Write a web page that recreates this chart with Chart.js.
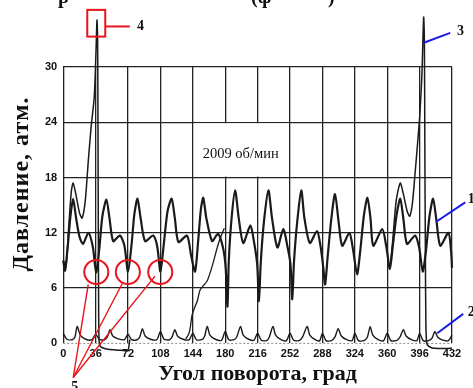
<!DOCTYPE html>
<html><head><meta charset="utf-8">
<script src="https://cdn.jsdelivr.net/npm/chart.js@4.4.1/dist/chart.umd.min.js"></script>
<style>html,body{margin:0;padding:0;background:#fff;}#wrap{width:473px;height:388px;}</style>
</head><body><div id="wrap"><canvas id="c" width="473" height="388"></canvas></div>
<script>
// Main pressure trace (curve 1)
const aAngles = [0,2,5,8,11,14,18,22,28,33,36.5,
 40,43.5,48,51.5,55.5,63,68,72,
 76,79,82.5,86,91,100,104.5,108,
 112,116,120.5,124,128,137.5,142,146.5,
 150,153,155.6,159,165.5,172,177.5,180.5,182.5,184,187,191,
 195,200,208,212,215.5,217.5,219.5,223,228,
 232,238,244.5,249,252.5,254.5,256.5,260,264.5,
 268,274,282,286,289,291,294,298,302,
 306,310,318,322,326.5,330,334,338,
 341.5,344.5,354.5,359,363,366.5,370.5,374.5,
 378,382,391,395.5,399.5,403,407,411,
 414.5,419,428,431,432];
const aPressure = [9.0,7.9,10.5,13.8,15.7,13.8,11.6,10.8,12.0,10.4,7.7,
 10.2,13.8,15.6,13.5,11.1,11.7,10.6,7.8,
 10.8,14.0,15.7,13.6,11.1,11.7,10.5,7.8,
 11.0,14.4,15.7,13.6,11.0,11.7,9.6,7.8,
 11.2,14.6,15.8,13.6,11.1,11.9,10.4,8.2,4.0,9.0,13.5,16.6,
 13.6,10.9,12.8,11.0,8.6,4.6,8.8,13.2,16.6,
 13.6,10.4,12.4,10.6,8.6,4.8,9.0,13.2,16.6,
 13.6,10.9,12.2,10.5,8.2,6.4,9.6,13.6,16.2,
 13.2,10.6,12.0,10.2,7.5,10.0,13.8,15.8,
 13.5,10.6,12.4,10.5,8.1,10.8,14.0,15.7,
 13.5,10.8,11.7,10.4,7.8,10.0,13.8,15.7,
 13.5,10.6,12.0,10.0,8.2];
// Combustion cycle with peak 4
const bAngles = [0,3,6,9,11,14,18,21,24.5,28,31,34.5,36.5,37.5,38.2,38.6,39,39.4,40,42,48,56,64,70,72,74];
const bPressure = [9.0,8.3,12.5,16.5,17.4,16.2,14.2,13.6,15.5,20.0,23.5,26.8,32.0,35.1,33.0,24.0,12.0,3.0,0.0,-0.4,-0.6,-0.7,-0.75,-0.8,-0.8,0.4];
// Combustion cycle with peak 3
const cAngles = [363,366,370,374.5,378,382,385,388,391,394,396,398.5,400.5,401.3,401.8,402.4,403,404,406,410,418,426,432];
const cPressure = [8.1,11.0,15.5,17.4,16.2,14.4,13.8,15.2,18.5,22.0,24.5,29.0,35.4,33.0,22.0,10.0,2.0,0.0,-0.3,-0.5,-0.55,-0.55,-0.5];
// Compression line
const dAngles = [136,139,141,143,146,149,152,156,160,164,167,170,173,176,179];
const dPressure = [0.5,0.9,1.6,3.0,3.9,4.6,5.8,6.3,6.8,7.9,8.9,10.0,11.0,11.8,12.5];
// Low pressure trace (curve 2)
const eAngles = [0,4,10,13,15.5,19,25,32,36,
 40,46,49,52,55,61,68,72,
 76,82,85,88,91,97,104,108,
 112,118,121,124,127,133,140,144,
 148,154,157,160,163,169,176,180,
 184,190,193,197,200,206,212,216,
 220,226,229,233,236,242,248,252,
 256,262,266,271,274,280,285,288,
 292,298,302,305.5,309,315,321,324,
 328,334,338,341,344,350,356,360,
 364,370,374,378,381,387,393,396,
 400,406,410,413,416,422,428,432];
const ePressure = [1.1,0.45,0.4,0.7,1.85,0.9,0.45,0.4,1.0,
 0.45,0.4,0.7,1.5,0.8,0.5,0.4,1.0,
 0.4,0.4,0.7,1.6,0.8,0.45,0.4,1.3,
 0.45,0.4,0.7,1.5,0.8,0.45,0.4,1.1,
 0.4,0.4,0.75,1.85,0.9,0.45,0.35,1.3,
 0.4,0.4,0.75,1.85,0.9,0.45,0.35,1.1,
 0.35,0.3,0.7,1.85,0.9,0.4,0.3,1.1,
 0.35,0.3,0.7,1.85,0.9,0.4,0.3,1.1,
 0.3,0.3,0.7,1.6,0.8,0.4,0.3,1.1,
 0.3,0.3,0.7,1.8,0.9,0.4,0.3,1.1,
 0.3,0.3,0.65,1.5,0.8,0.4,0.3,1.1,
 0.3,0.3,0.6,1.3,0.7,0.35,0.3,0.9];

const xTicks = [0,36,72,108,144,180,216,252,288,324,360,396,432];
const yTicks = [0,6,12,18,24,30];
const rpmLabel = '2009 об/мин';
const xTitle = 'Угол поворота, град';
const yTitle = 'Давление, атм.';

const pts = (xs, ys) => xs.map((x, i) => ({x: x, y: ys[i]}));
const ink = '#1a1a1a';
function ds(xs, ys, w){
  return {data: pts(xs, ys), borderColor: ink, borderWidth: w, pointRadius: 0, tension: 0.25, clip: false, fill: false};
}

const decor = {
  id: 'decor',
  beforeDatasetsDraw(chart){
    const {ctx, scales:{x, y}} = chart;
    ctx.save();
    ctx.strokeStyle = '#8a8a8a'; ctx.lineWidth = 1; ctx.setLineDash([2,2]);
    ctx.beginPath(); ctx.moveTo(x.getPixelForValue(0), y.getPixelForValue(0)); ctx.lineTo(x.getPixelForValue(432), y.getPixelForValue(0)); ctx.stroke();
    ctx.setLineDash([]);
    const x0 = x.getPixelForValue(144)+1, x1 = x.getPixelForValue(252)-1;
    const y0 = y.getPixelForValue(24)+1, y1 = y.getPixelForValue(18)-1;
    ctx.fillStyle = '#fff'; ctx.fillRect(x0, y0, x1-x0, y1-y0);
    ctx.fillStyle = '#111'; ctx.font = '14.5px "Liberation Serif", serif';
    ctx.textAlign = 'left'; ctx.textBaseline = 'middle';
    ctx.fillText(rpmLabel, x.getPixelForValue(155), y.getPixelForValue(20.5));
    ctx.restore();
  },
  afterDatasetsDraw(chart){
    const {ctx, scales:{x, y}} = chart;
    const P = (a, v) => [x.getPixelForValue(a), y.getPixelForValue(v)];
    ctx.save();
    const red = '#e8141c', blue = '#1a1ae6';
    ctx.strokeStyle = red; ctx.lineWidth = 2;
    let [rx0, ry0] = P(26.7, 36.2), [rx1, ry1] = P(46.7, 33.3);
    ctx.strokeRect(rx0, ry0, rx1-rx0, ry1-ry0);
    ctx.beginPath(); ctx.moveTo(...P(46.7, 34.4)); ctx.lineTo(...P(74, 34.4)); ctx.stroke();
    [36.7, 71.8, 107.8].forEach(a => { const [cx, cy] = P(a, 7.75); ctx.beginPath(); ctx.arc(cx, cy, 12, 0, Math.PI*2); ctx.stroke(); });
    ctx.lineWidth = 1.4;
    [[27.8, 6.4],[65.6, 6.5],[102, 7.3]].forEach(t => { ctx.beginPath(); ctx.moveTo(...P(11.1, -3.7)); ctx.lineTo(...P(t[0], t[1])); ctx.stroke(); });
    ctx.strokeStyle = blue; ctx.lineWidth = 2;
    [[[400, 32.6],[430, 33.7]], [[414.4, 13.2],[446.7, 15.3]], [[415.6, 1.1],[444.4, 3.2]]].forEach(l => {
      ctx.beginPath(); ctx.moveTo(...P(l[0][0], l[0][1])); ctx.lineTo(...P(l[1][0], l[1][1])); ctx.stroke();
    });
    ctx.fillStyle = '#111'; ctx.font = 'bold 14px "Liberation Serif", serif';
    ctx.textAlign = 'left'; ctx.textBaseline = 'middle';
    ctx.fillText('4', ...P(82, 34.4));
    ctx.fillText('3', ...P(437.5, 33.9));
    ctx.fillText('1', ...P(449.5, 15.6));
    ctx.fillText('2', ...P(449.5, 3.4));
    ctx.fillText('5', ...P(8.8, -4.8));
    ctx.font = 'bold 24px "Liberation Serif", serif';
    ctx.textAlign = 'center';
    try { ctx.letterSpacing = '1px'; } catch(e) {}
    ctx.translate(22, 184); ctx.rotate(-Math.PI/2);
    ctx.fillText(yTitle, 0, 0);
    ctx.restore();
    ctx.save();
    ctx.fillStyle = '#111'; ctx.font = 'bold 20px "Liberation Serif", serif';
    ctx.textBaseline = 'alphabetic'; ctx.textAlign = 'left';
    ctx.fillText('р', 58, 3); ctx.fillText('(ф', 251, 3); ctx.fillText(')', 328, 3);
    ctx.restore();
  }
};

new Chart(document.getElementById('c'), {
  type: 'line',
  data: { datasets: [
    ds(eAngles, ePressure, 1.4),
    ds(dAngles, dPressure, 1.3),
    ds(bAngles, bPressure, 1.5),
    ds(cAngles, cPressure, 1.5),
    ds(aAngles, aPressure, 2.2)
  ]},
  options: {
    responsive: false, animation: false, devicePixelRatio: 1,
    layout: { padding: { left: 39, right: 21, top: 67, bottom: 0 } },
    plugins: { legend: {display: false}, tooltip: {enabled: false} },
    scales: {
      x: { type: 'linear', min: 0, max: 432,
        afterBuildTicks: s => { s.ticks = xTicks.map(v => ({value: v})); },
        ticks: { font: {family: '"Liberation Sans", Arial, sans-serif', size: 11, weight: 'bold'}, color: '#111', padding: 4, maxRotation: 0, autoSkip: false },
        grid: { color: '#222', lineWidth: 1.3, drawTicks: false },
        border: { display: false },
        title: { display: true, text: xTitle, color: '#111', font: {family: '"Liberation Serif", serif', size: 22, weight: 'bold'}, padding: {top: -3, bottom: 0} }
      },
      y: { min: 0, max: 30,
        afterBuildTicks: s => { s.ticks = yTicks.map(v => ({value: v})); },
        ticks: { font: {family: '"Liberation Sans", Arial, sans-serif', size: 11, weight: 'bold'}, color: '#111', padding: 6 },
        grid: { color: c => (c.tick && c.tick.value === 0) ? 'rgba(0,0,0,0)' : '#222', lineWidth: 1.3, drawTicks: false },
        border: { display: false }
      }
    }
  },
  plugins: [decor]
});
</script></body></html>
